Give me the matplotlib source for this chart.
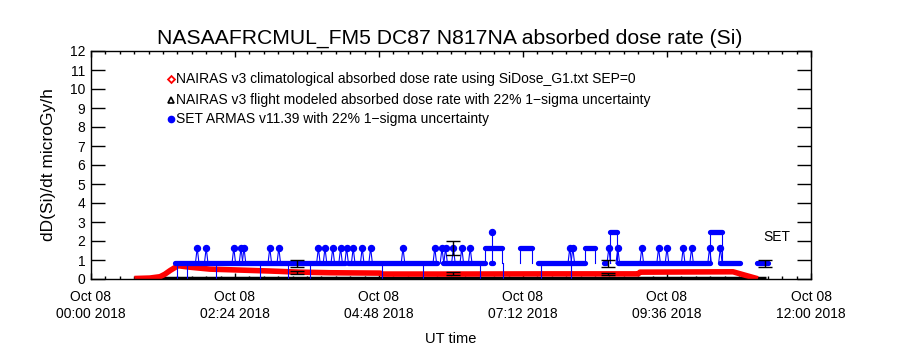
import matplotlib
matplotlib.use("Agg")
import matplotlib.pyplot as plt

plt.rcParams['font.family'] = ['Liberation Sans', 'DejaVu Sans']

# time in hours after 2018-10-08 00:00 UT
clim_t = [0.77, 0.98, 1.15, 1.23, 1.32, 1.45, 1.65, 1.98, 2.48, 2.98, 3.48, 3.98,
          4.82, 4.85, 5.98, 7.65, 9.12, 9.15, 10.70, 10.90, 11.07]
clim_v = [0.03, 0.05, 0.12, 0.25, 0.45, 0.70, 0.62, 0.52, 0.47, 0.42, 0.36, 0.33,
          0.31, 0.26, 0.26, 0.27, 0.27, 0.36, 0.38, 0.20, 0.05]

flight_t = [0.77, 11.25]
flight_v = [0.03, 0.03]

# SET ARMAS runs: (start, end, dose rate)
set_runs = [
    (1.40, 4.23, 0.82), (4.28, 5.76, 0.82), (5.86, 6.57, 0.82),
    (6.66, 6.70, 0.82), (7.45, 8.23, 0.82), (8.55, 8.59, 0.82),
    (8.78, 10.32, 0.82), (10.48, 10.82, 0.82), (11.10, 11.28, 0.82),
    (6.57, 6.85, 1.64), (7.15, 7.35, 1.64), (8.23, 8.40, 1.64),
    (8.65, 8.76, 2.46), (10.32, 10.51, 2.46),
]
set_spikes_t = [1.77, 1.92, 2.38, 2.50, 2.55, 2.98, 3.13, 3.79, 3.90, 4.03, 4.16,
                4.26, 4.37, 4.52, 4.66, 5.20, 5.73, 5.85, 5.91, 6.04, 6.18, 6.32,
                7.98, 8.03, 8.63, 8.78, 9.18, 9.46, 9.60, 9.87, 10.01, 10.31,
                10.49]
set_spikes_v = [1.64] * len(set_spikes_t)
set_top_t = [6.68]
set_top_v = [2.46]
set_drops = [1.43, 1.60, 2.08, 2.82, 3.28, 3.65, 4.85, 5.53, 6.48, 6.87, 7.50,
             8.00]

# error bars (22% 1-sigma)
err_t = [3.43, 6.03, 8.62, 11.23]
err_set = [0.82, 1.64, 0.82, 0.82]
err_nai_t = [3.43, 6.03, 8.62]
err_nai = [0.36, 0.30, 0.26]

ytick_pos = list(range(13))
xtick_pos = [0, 2.4, 4.8, 7.2, 9.6, 12.0]
xtick_lab = ['Oct 08\n00:00 2018', 'Oct 08\n02:24 2018', 'Oct 08\n04:48 2018',
             'Oct 08\n07:12 2018', 'Oct 08\n09:36 2018', 'Oct 08\n12:00 2018']

blue = '#0000ff'
red = '#ff0000'

fig = plt.figure(figsize=(9, 3.5), dpi=100)
ax = fig.add_axes([91 / 900, 71 / 350, 720 / 900, 228 / 350])

ax.plot(flight_t, flight_v, color='black', lw=2.5, solid_capstyle='butt')
ax.plot(clim_t, clim_v, color=red, lw=4, solid_joinstyle='round')

# SET ARMAS: thin connecting lines then thick runs and dots
for t in set_drops:
    ax.plot([t, t], [0, 0.82], color=blue, lw=0.8)
for t, v in zip(set_spikes_t, set_spikes_v):
    ax.plot([t - 0.03, t, t + 0.03], [0.82, v, 0.82], color=blue, lw=0.8)
for t, v in zip(set_top_t, set_top_v):
    ax.plot([t, t], [0.82, v], color=blue, lw=0.8)
for t0, t1, v in set_runs:
    if v > 0.82:
        ax.plot([t0, t0], [0.82, v], color=blue, lw=0.8)
        ax.plot([t1, t1], [0.82, v], color=blue, lw=0.8)
    ax.plot([t0, t1], [v, v], color=blue, lw=3.8, solid_capstyle='round')
ax.plot(set_spikes_t, set_spikes_v, 'o', color=blue, ms=4.3)
ax.plot(set_top_t, set_top_v, 'o', color=blue, ms=4.3)

ax.errorbar(err_t, err_set, yerr=[0.22 * v for v in err_set], fmt='none',
            ecolor='black', elinewidth=1, capsize=5)
ax.errorbar(err_nai_t, err_nai, yerr=[0.22 * v for v in err_nai], fmt='none',
            ecolor='black', elinewidth=1, capsize=5)

ax.text(11.2, 2.2, 'SET', fontsize=10, ha='left', va='center')

# legend drawn as text lines
leg_y = [10.54, 9.42, 8.42]
leg_txt = ['NAIRAS v3 climatological absorbed dose rate using SiDose_G1.txt SEP=0',
           'NAIRAS v3 flight modeled absorbed dose rate with 22% 1\u2212sigma uncertainty',
           'SET ARMAS v11.39 with 22% 1\u2212sigma uncertainty']
ax.plot([1.333], [leg_y[0]], 'D', ms=3.5, mfc='white', mec=red, mew=1.3)
ax.plot([1.333], [leg_y[1]], '^', ms=4, mfc='white', mec='black', mew=1.2)
ax.plot([1.333], [leg_y[2]], 'o', ms=4.5, color=blue)
for y, s in zip(leg_y, leg_txt):
    ax.text(1.42, y, s, fontsize=10, va='center', ha='left')

ax.set_xlim(0, 12)
ax.set_ylim(0, 12)
ax.set_xticks(xtick_pos)
ax.set_xticklabels(xtick_lab, fontsize=10, linespacing=1.25)
ax.set_xticks([i * 0.24 for i in range(51)], minor=True)
ax.set_yticks(ytick_pos)
ax.set_yticklabels([str(v) for v in ytick_pos], fontsize=10)
ax.tick_params(axis='y', which='major', direction='in', length=10, width=1,
               right=True, pad=4)
ax.tick_params(axis='x', which='major', direction='in', length=4, width=1,
               top=True, pad=8)
ax.tick_params(axis='x', which='minor', direction='in', length=2.5, width=1,
               top=True)
for sp in ax.spines.values():
    sp.set_linewidth(1)

ax.set_xlabel('UT time', fontsize=10.5, labelpad=8)
ax.set_ylabel('dD(Si)/dt microGy/h', fontsize=12.5, labelpad=10)
fig.text(0.5, 1 - 38 / 350, 'NASAAFRCMUL_FM5 DC87 N817NA absorbed dose rate (Si)',
         ha='center', va='center', fontsize=15.2)

fig.savefig('out.png', dpi=100)
